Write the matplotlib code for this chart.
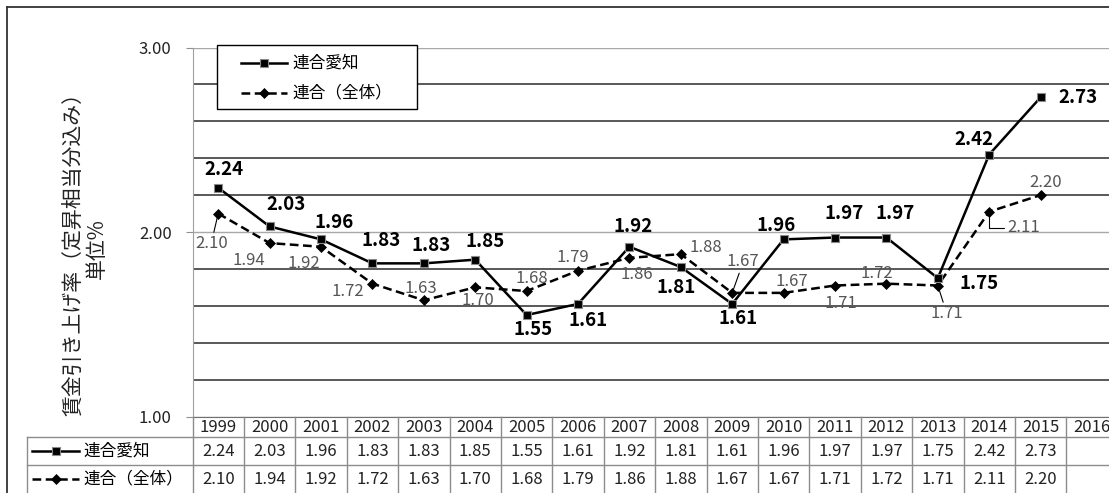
import numpy as np
import matplotlib
matplotlib.use('Agg')
import matplotlib.pyplot as plt
from matplotlib.lines import Line2D
from matplotlib.patches import Rectangle
import matplotlib.transforms as mtransforms

plt.rcParams['font.family'] = ['Noto Sans CJK JP', 'DejaVu Sans']

# ---------------- data ----------------
years = ['1999', '2000', '2001', '2002', '2003', '2004', '2005', '2006', '2007',
         '2008', '2009', '2010', '2011', '2012', '2013', '2014', '2015', '2016']
aichi = [2.24, 2.03, 1.96, 1.83, 1.83, 1.85, 1.55, 1.61, 1.92,
         1.81, 1.61, 1.96, 1.97, 1.97, 1.75, 2.42, 2.73, np.nan]
rengo = [2.10, 1.94, 1.92, 1.72, 1.63, 1.70, 1.68, 1.79, 1.86,
         1.88, 1.67, 1.67, 1.71, 1.72, 1.71, 2.11, 2.20, np.nan]
series_names = ['連合愛知', '連合（全体）']
ylabel = '賃金引き上げ率（定昇相当分込み）\n単位%'
y_major = [1.0, 2.0, 3.0]
y_minor = [1.2, 1.4, 1.6, 1.8, 2.2, 2.4, 2.6, 2.8]

# label offsets (pixels) for data labels
aichi_off = [(6, 18), (16, 22), (13, 17), (9, 23), (7, 18), (10, 18), (6, -14), (10, -17),
             (4, 20), (-5, -20), (6, -15), (-7, 14), (9, 24), (9, 24), (41, -5), (-15, 15), (37, 0)]
rengo_off = [(-7, -30), (-21, -17), (-17, -17), (-25, -8), (-3, 12), (3, -13), (5, 13), (-5, 13),
             (7, -17), (25, 7), (11, 31), (8, 11), (6, -18), (-10, 10), (9, -28), (34, -16), (5, 13)]
rengo_leader = {0: 'line', 10: 'line', 14: 'line', 15: 'elbow'}

# ---------------- layout ----------------
W, H = 1109, 493
fig = plt.figure(figsize=(W / 100, H / 100), dpi=100)


def fx(px):
    return px / W


def fy(py):
    return 1 - py / H


ax_left, ax_top, ax_bottom = 192.5, 47.5, 416.5
col_w = 51.4
n = len(years)
ax = fig.add_axes([fx(ax_left), fy(ax_bottom), n * col_w / W, (ax_bottom - ax_top) / H])

x = np.arange(n)
ax.set_xlim(-0.5, n - 0.5)
ax.set_ylim(1.0, 3.0)
ax.set_xticks([])
ax.set_yticks(y_major)
ax.set_yticklabels([f'{v:.2f}' for v in y_major], fontsize=12, color='#222222')
ax.set_yticks(y_minor, minor=True)
ax.tick_params(axis='y', which='major', length=5, color='#909090', pad=10)
ax.tick_params(axis='y', which='minor', length=0)
ax.grid(axis='y', which='major', color='#a8a8a8', lw=1.0)
ax.grid(axis='y', which='minor', color='#3c3c3c', lw=1.2)
ax.set_axisbelow(True)
for s in ['top', 'right']:
    ax.spines[s].set_visible(False)
ax.spines['left'].set_color('#a0a0a0')
ax.spines['bottom'].set_color('#707070')
ax.patch.set_alpha(0)

sq = dict(marker='s', ms=5.5, mfc='black', mec='#8a8a8a', mew=0.8)
dm = dict(marker='D', ms=4.6, mfc='black', mec='black', mew=0.5)
dash = (0, (3.5, 1.8))

ax.plot(x, aichi, color='black', lw=1.8, zorder=4, clip_on=False, **sq)
ax.plot(x, rengo, color='black', lw=1.8, ls=dash, zorder=3, clip_on=False, **dm)

# data labels
for i in range(n):
    if not np.isnan(aichi[i]):
        ax.annotate(f'{aichi[i]:.2f}', (x[i], aichi[i]), xytext=aichi_off[i],
                    textcoords='offset pixels', ha='center', va='center',
                    fontsize=13.5, fontweight='bold', color='black', zorder=6)
    if not np.isnan(rengo[i]):
        kind = rengo_leader.get(i)
        ap = None
        if kind == 'line':
            ap = dict(arrowstyle='-', color='black', lw=0.8, shrinkA=0, shrinkB=2)
        elif kind == 'elbow':
            ap = dict(arrowstyle='-', color='black', lw=0.8, shrinkA=0, shrinkB=3,
                      connectionstyle='angle,angleA=0,angleB=90,rad=0',
                      relpos=(0, 0.5))
        ax.annotate(f'{rengo[i]:.2f}', (x[i], rengo[i]), xytext=rengo_off[i],
                    textcoords='offset pixels', ha='center', va='center',
                    fontsize=12, color='#555555', zorder=6, arrowprops=ap)

# ---------------- legend (drawn) ----------------
leg_x0, leg_y0, leg_x1, leg_y1 = 217, 45, 417, 109
fig.add_artist(Rectangle((fx(leg_x0), fy(leg_y1)), (leg_x1 - leg_x0) / W, (leg_y1 - leg_y0) / H,
                         transform=fig.transFigure, facecolor='white', edgecolor='black',
                         lw=1.0, zorder=5))
styles = [dict(ls='-', **sq), dict(ls=dash, **dm)]
for k, (yy, name) in enumerate(zip([63, 93], series_names)):
    st = dict(styles[k])
    ls = st.pop('ls')
    fig.add_artist(Line2D([fx(241), fx(287)], [fy(yy), fy(yy)], transform=fig.transFigure,
                          color='black', lw=1.8, ls=ls, zorder=6))
    fig.add_artist(Line2D([fx(264)], [fy(yy)], transform=fig.transFigure, color='black',
                          ls='none', zorder=7, **st))
    fig.text(fx(292), fy(yy), name, fontsize=12, va='center', ha='left', zorder=7)

# ---------------- data table ----------------
tb = mtransforms.blended_transform_factory(ax.transData, fig.transFigure)
grid_c = '#8c8c8c'
row_y = [427, 451, 479]
for yy in [437, 465]:
    fig.add_artist(Line2D([fx(27), fx(W + 5)], [fy(yy), fy(yy)], transform=fig.transFigure,
                          color=grid_c, lw=1.0))
fig.add_artist(Line2D([fx(27), fx(27)], [fy(437), fy(H + 2)], transform=fig.transFigure,
                      color=grid_c, lw=1.0))
for i in range(n + 1):
    fig.add_artist(Line2D([i - 0.5, i - 0.5], [fy(ax_bottom), fy(H + 2)], transform=tb,
                          color=grid_c, lw=1.0))
for i in range(n):
    fig.text(x[i], fy(row_y[0]), years[i], transform=tb, ha='center', va='center',
             fontsize=12, color='#222222')
    if not np.isnan(aichi[i]):
        fig.text(x[i], fy(row_y[1]), f'{aichi[i]:.2f}', transform=tb, ha='center',
                 va='center', fontsize=12, color='#222222')
    if not np.isnan(rengo[i]):
        fig.text(x[i], fy(row_y[2]), f'{rengo[i]:.2f}', transform=tb, ha='center',
                 va='center', fontsize=12, color='#222222')
for k, (yy, name) in enumerate(zip(row_y[1:], series_names)):
    st = dict(styles[k])
    ls = st.pop('ls')
    fig.add_artist(Line2D([fx(32), fx(79)], [fy(yy), fy(yy)], transform=fig.transFigure,
                          color='black', lw=1.8, ls=ls))
    fig.add_artist(Line2D([fx(56)], [fy(yy)], transform=fig.transFigure, color='black',
                          ls='none', **st))
    fig.text(fx(83), fy(yy), name, fontsize=12, va='center', ha='left')

# ---------------- y label & outer frame ----------------
fig.text(fx(85), fy(249), ylabel, rotation=90, ha='center', va='center',
         multialignment='center', fontsize=15, linespacing=1.08, color='#222222')
fig.add_artist(Line2D([fx(7), fx(7)], [fy(7), fy(H + 2)], transform=fig.transFigure,
                      color='#333333', lw=1.3))
fig.add_artist(Line2D([fx(7), fx(W + 2)], [fy(7), fy(7)], transform=fig.transFigure,
                      color='#333333', lw=1.3))

fig.savefig('out.png', dpi=100)
